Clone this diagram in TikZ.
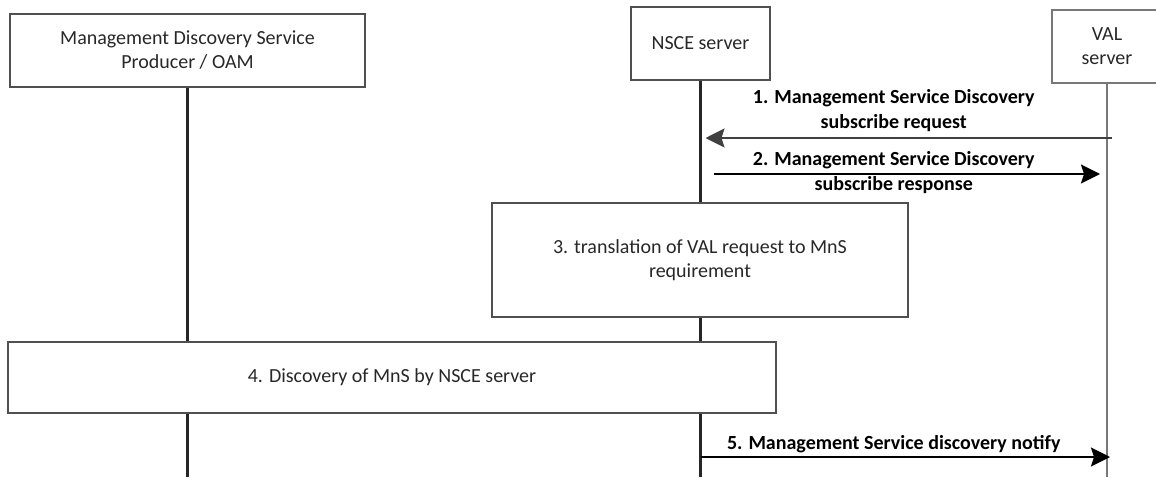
\documentclass[tikz,border=0pt]{standalone}
\usepackage{fontspec}
\setmainfont{Carlito}
\usepackage{tikz}
\usetikzlibrary{positioning}
\usetikzlibrary{arrows.meta}
\definecolor{boxgray}{RGB}{80,80,80}
\definecolor{valgray}{RGB}{120,120,120}
\definecolor{textgray}{RGB}{40,40,40}
\tikzset{
    sequence diagram/.style={
            x=1pt,y=-1pt,
            font=\fontsize{20}{24}\selectfont,
            entity/.style={draw=boxgray,line width=2pt,fill=white,inner sep=0pt,align=center,text=textgray},
            procbox/.style={draw=boxgray,line width=2pt,fill=white,inner sep=0pt,align=center,text=textgray},
            lifeline/.style={line width=2.2pt,black!85},
            message/.style={line width=2pt,-{Stealth[length=19pt,width=19pt,inset=3pt]}},
            msg/.style={font=\fontsize{20}{25}\selectfont\bfseries,align=center,inner sep=0pt,xshift=-10pt}
        }
    }

\begin{document}
\begin{tikzpicture}[sequence diagram]
    \useasboundingbox (0,0) rectangle (1156,477);
    \node (oam) [entity,minimum width=355pt,minimum height=73pt] at (187.5,50.5) {Management Discovery Service\\Producer / OAM};
    \node (nsce) [entity,minimum width=139pt,minimum height=73pt] at (700.5,43.5) {NSCE server};
    \node (val) [entity,draw=valgray,minimum width=110pt,minimum height=73pt] at (1107,46.5) {\fontsize{20}{27}\selectfont VAL\\server};
    \coordinate (bottom) at (0,477);
    \draw [lifeline] (oam) -- (oam |- bottom);
    \draw [lifeline] (nsce) -- (nsce |- bottom);
    \draw [lifeline,valgray] (val) -- (val |- bottom);
    % boxes over the lifelines
    \node (translate) [procbox,minimum width=416pt,minimum height=114pt] at (700,260) {\fontsize{20}{22}\selectfont 3. translation of VAL request to MnS\\requirement};
    \node (discover) [procbox,minimum width=768pt,minimum height=71pt] at (392,377.5) {4. Discovery of MnS by NSCE server};
    % messages
    \coordinate (val1) at (val |- 0,138);
    \coordinate (nsce1) at (nsce |- 0,138);
    \coordinate (nsce2) at (nsce |- 0,174);
    \coordinate (val2) at (val |- 0,174);
    \coordinate (nsce5) at (nsce |- 0,457);
    \coordinate (val5) at (val |- 0,457);
    \draw [message,black!75,shorten <=-5pt,shorten >=5pt] (val1) -- (nsce1) node [midway,above=5pt,msg,black] {1. Management Service Discovery\\subscribe request};
    \draw [message,shorten <=13pt,shorten >=7pt] (nsce2) -- (val2) node [midway,msg,yshift=1.5pt] {2. Management Service Discovery\\subscribe response};
    \draw [message,shorten >=-3pt] (nsce5) -- (val5) node [midway,above=3.5pt,msg] {5. Management Service discovery notify};
\end{tikzpicture}
\end{document}
